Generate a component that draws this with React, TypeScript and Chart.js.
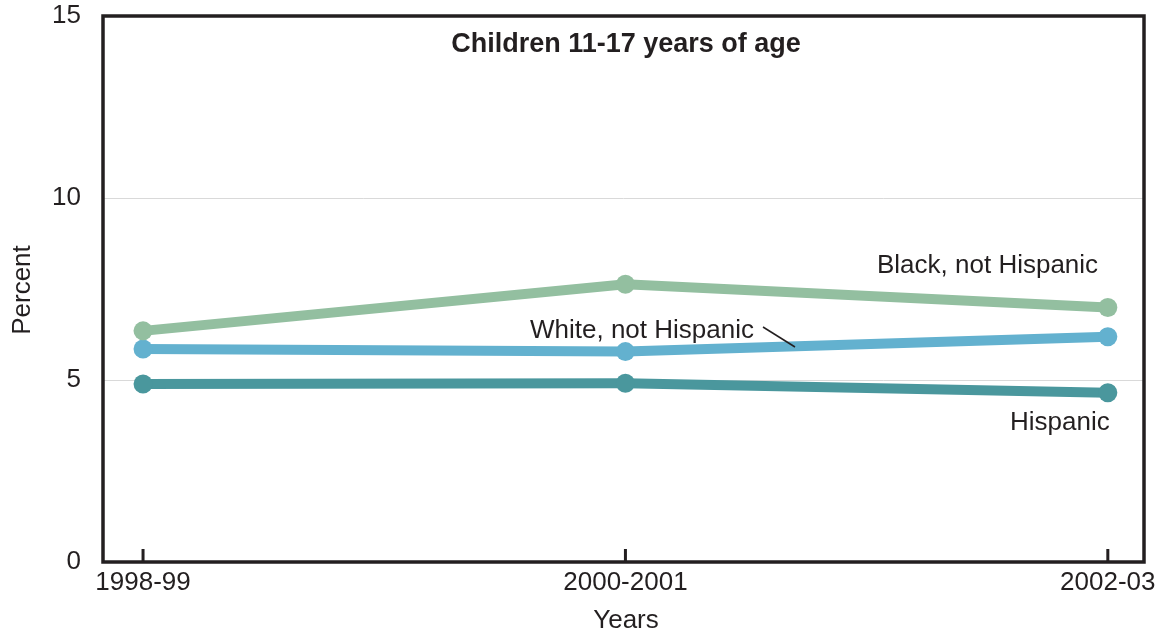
import React, { useEffect, useRef } from 'react';
import { Chart, registerables } from 'chart.js';

Chart.register(...registerables);

const categories = ['1998-99', '2000-2001', '2002-03'];
const blackValues = [6.35, 7.63, 6.99];
const whiteValues = [5.85, 5.78, 6.19];
const hispanicValues = [4.89, 4.91, 4.65];
const yTickValues = [0, 5, 10, 15];

const FONT = '"Liberation Sans", Arial, Helvetica, sans-serif';
const INK = '#231f20';
const COLOR_BLACK = '#93bfa0';
const COLOR_WHITE = '#63b1cf';
const COLOR_HISP = '#4a979d';

const toPoints = (vals: number[]) => vals.map((v, i) => ({ x: i, y: v }));

const decorPlugin = {
  id: 'decor',
  afterDraw(chart: any) {
    const { ctx, chartArea, scales } = chart;
    const xs = scales.x;
    const ys = scales.y;
    ctx.save();
    // frame
    ctx.strokeStyle = INK;
    ctx.lineWidth = 3.5;
    ctx.strokeRect(chartArea.left, chartArea.top, chartArea.right - chartArea.left, chartArea.bottom - chartArea.top);
    // inward x ticks
    ctx.lineWidth = 3;
    categories.forEach((_, i) => {
      const px = xs.getPixelForValue(i);
      ctx.beginPath();
      ctx.moveTo(px, chartArea.bottom);
      ctx.lineTo(px, chartArea.bottom - 13);
      ctx.stroke();
    });
    // title
    ctx.fillStyle = INK;
    ctx.textBaseline = 'middle';
    ctx.textAlign = 'center';
    ctx.font = `bold 27px ${FONT}`;
    ctx.fillText('Children 11-17 years of age', 626, 45);
    // axis titles
    ctx.font = `26px ${FONT}`;
    ctx.fillText('Years', 626, 621);
    ctx.save();
    ctx.translate(23, 290);
    ctx.rotate(-Math.PI / 2);
    ctx.fillText('Percent', 0, 0);
    ctx.restore();
    // series labels
    ctx.font = `26px ${FONT}`;
    ctx.textAlign = 'left';
    ctx.fillText('Black, not Hispanic', 877, ys.getPixelForValue(8.15));
    ctx.fillText('White, not Hispanic', 530, ys.getPixelForValue(6.36));
    ctx.fillText('Hispanic', 1010, ys.getPixelForValue(3.81));
    // leader line
    ctx.lineWidth = 1.5;
    ctx.beginPath();
    ctx.moveTo(763, 327);
    ctx.lineTo(795, 347);
    ctx.stroke();
    ctx.restore();
  },
};

export default function App() {
  const ref = useRef<HTMLCanvasElement>(null);

  useEffect(() => {
    document.body.style.margin = '0';
    if (!ref.current) return;
    const chart = new Chart(ref.current, {
      type: 'line',
      data: {
        datasets: [
          {
            label: 'Black, not Hispanic',
            data: toPoints(blackValues),
            borderColor: COLOR_BLACK,
            backgroundColor: COLOR_BLACK,
            pointBackgroundColor: COLOR_BLACK,
          },
          {
            label: 'White, not Hispanic',
            data: toPoints(whiteValues),
            borderColor: COLOR_WHITE,
            backgroundColor: COLOR_WHITE,
            pointBackgroundColor: COLOR_WHITE,
          },
          {
            label: 'Hispanic',
            data: toPoints(hispanicValues),
            borderColor: COLOR_HISP,
            backgroundColor: COLOR_HISP,
            pointBackgroundColor: COLOR_HISP,
          },
        ].map((d) => ({
          ...d,
          borderWidth: 10,
          pointRadius: 9.5,
          pointBorderWidth: 0,
          tension: 0,
          fill: false,
        })),
      },
      options: {
        animation: false,
        responsive: false,
        maintainAspectRatio: false,
        layout: { padding: { top: 16, right: 16, left: 0, bottom: 0 } },
        plugins: {
          legend: { display: false },
          tooltip: { enabled: false },
          title: { display: false },
        },
        scales: {
          x: {
            type: 'linear',
            min: -0.083,
            max: 2.075,
            grid: { display: false, drawTicks: false },
            border: { display: false },
            afterBuildTicks: (scale: any) => {
              scale.ticks = categories.map((_, i) => ({ value: i }));
            },
            afterFit: (scale: any) => {
              scale.height = 72;
              scale.paddingLeft = 0;
              scale.paddingRight = 0;
            },
            ticks: {
              autoSkip: false,
              maxRotation: 0,
              padding: 5,
              color: INK,
              font: { family: FONT, size: 26 },
              callback: (v: any) => categories[Number(v)] ?? '',
            },
          },
          y: {
            type: 'linear',
            min: 0,
            max: 15,
            grid: { color: '#d9d9d9', lineWidth: 1, drawTicks: false },
            border: { display: false },
            afterBuildTicks: (scale: any) => {
              scale.ticks = yTickValues.map((v) => ({ value: v }));
            },
            afterFit: (scale: any) => {
              scale.width = 103;
              scale.paddingTop = 0;
              scale.paddingBottom = 0;
            },
            ticks: {
              padding: 22,
              color: INK,
              font: { family: FONT, size: 26 },
            },
          },
        },
      },
      plugins: [decorPlugin],
    } as any);
    return () => chart.destroy();
  }, []);

  return (
    <canvas
      ref={ref}
      width={1160}
      height={634}
      style={{ display: 'block', width: 1160, height: 634 }}
    />
  );
}
